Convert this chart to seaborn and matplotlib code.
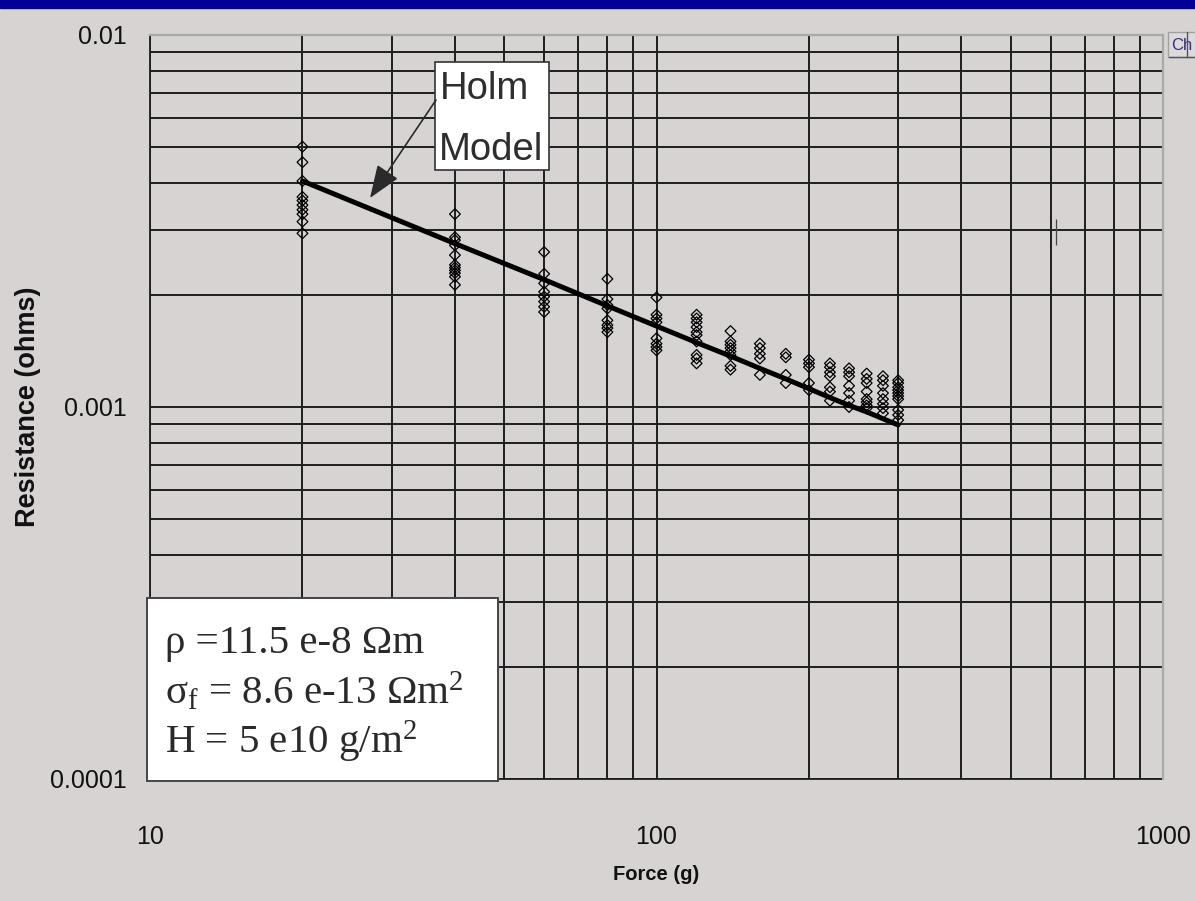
import matplotlib
matplotlib.use("Agg")
import matplotlib.pyplot as plt
import seaborn as sns
import pandas as pd
from matplotlib.patches import Rectangle
from matplotlib.lines import Line2D
from matplotlib.ticker import LogLocator, NullFormatter, FixedLocator, FixedFormatter

# ---- measured contact resistance (ohms) at each applied force (g) ----
r_20 = [0.00501, 0.00455, 0.00405, 0.00367, 0.00359, 0.00349, 0.00339, 0.00330, 0.00315, 0.00293]
r_40 = [0.00330, 0.00286, 0.00281, 0.00272, 0.00256, 0.00241, 0.00237, 0.00233, 0.00229, 0.00224, 0.00213]
r_60 = [0.00261, 0.00228, 0.00215, 0.00204, 0.00198, 0.00192, 0.00186, 0.00180]
r_80 = [0.00221, 0.00195, 0.00188, 0.00184, 0.00171, 0.00166, 0.00163, 0.00159]
r_100 = [0.00197, 0.00177, 0.00173, 0.00169, 0.00153, 0.00148, 0.00145, 0.00142]
r_120 = [0.00177, 0.00173, 0.00169, 0.00164, 0.00159, 0.00156, 0.00150, 0.00138, 0.00135, 0.00131]
r_140 = [0.00160, 0.00150, 0.00147, 0.00144, 0.00141, 0.00138, 0.00129, 0.00126]
r_160 = [0.00148, 0.00144, 0.00139, 0.00135, 0.00122]
r_180 = [0.00139, 0.00136, 0.00122, 0.00116]
r_200 = [0.00134, 0.00131, 0.00128, 0.00116, 0.00111]
r_220 = [0.00131, 0.00128, 0.00124, 0.00121, 0.00113, 0.00110, 0.00104]
r_240 = [0.00127, 0.00124, 0.00121, 0.00114, 0.00109, 0.00104, 0.00100]
r_260 = [0.00123, 0.00119, 0.00116, 0.00110, 0.00105, 0.00103, 0.00101, 0.000993]
r_280 = [0.00121, 0.00118, 0.00114, 0.00109, 0.00105, 0.00102, 0.000993, 0.000962]
r_300 = [0.00118, 0.00116, 0.00113, 0.00111, 0.00109, 0.00107, 0.00105, 0.000982, 0.000952, 0.000922]

forces = [20, 40, 60, 80, 100, 120, 140, 160, 180, 200, 220, 240, 260, 280, 300]
measured = [r_20, r_40, r_60, r_80, r_100, r_120, r_140, r_160, r_180, r_200,
            r_220, r_240, r_260, r_280, r_300]

# ---- Holm model curve ----
model_force = [20, 40, 60, 80, 100, 120, 140, 160, 180, 200, 220, 240, 260, 280, 300]
model_resistance = [0.00405, 0.00275, 0.00220, 0.00187, 0.00165, 0.00149, 0.00137, 0.00127,
                    0.00119, 0.00112, 0.00106, 0.00101, 0.00097, 0.00093, 0.000895]

# stray marker near the right edge
stray_force = [615]
stray_resistance = [0.00295]

x_ticks = [10, 100, 1000]
x_tick_labels = ["10", "100", "1000"]
y_ticks = [0.0001, 0.001, 0.01]
y_tick_labels = ["0.0001", "0.001", "0.01"]

param_lines = [r"ρ =11.5 e-8 Ωm",
               r"σ$_\mathrm{f}$ = 8.6 e-13 Ωm$^2$",
               r"H = 5 e10 g/m$^2$"]

df = pd.DataFrame({
    "force": [f for f, vals in zip(forces, measured) for _ in vals],
    "resistance": [v for vals in measured for v in vals],
})

bg = "#d7d3d3"
grid_c = "#1e1e1e"

sns.set_theme(style="white")
plt.rcParams["font.family"] = ["Liberation Sans", "DejaVu Sans"]
plt.rcParams["mathtext.fontset"] = "custom"
plt.rcParams["mathtext.rm"] = "Liberation Serif"
plt.rcParams["mathtext.it"] = "Liberation Serif:italic"

W, H = 1195, 901
fig = plt.figure(figsize=(W / 100, H / 100), dpi=100, facecolor=bg)

# title bar strip
fig.patches.append(Rectangle((0, 1 - 8 / H), 1, 8 / H, transform=fig.transFigure,
                             color="#000099", zorder=0))

L, R, T, B = 150, 1163, 35, 779
ax = fig.add_axes([L / W, 1 - B / H, (R - L) / W, (B - T) / H])
ax.set_facecolor(bg)

sns.scatterplot(data=df, x="force", y="resistance", marker="D", s=30,
                fc="none", ec="black", linewidth=0.9, ax=ax, zorder=3, legend=False)
sns.lineplot(x=model_force, y=model_resistance, color="black", linewidth=3.6,
             ax=ax, zorder=4)
ax.plot(stray_force, stray_resistance, marker="|", ms=19, mew=0.9, color="#444444",
        linestyle="none", zorder=3)

ax.set_xscale("log")
ax.set_yscale("log")
ax.set_xlim(10, 1000)
ax.set_ylim(0.0001, 0.01)

ax.xaxis.set_major_locator(FixedLocator(x_ticks))
ax.xaxis.set_major_formatter(FixedFormatter(x_tick_labels))
ax.yaxis.set_major_locator(FixedLocator(y_ticks))
ax.yaxis.set_major_formatter(FixedFormatter(y_tick_labels))
for axis in (ax.xaxis, ax.yaxis):
    axis.set_minor_locator(LogLocator(base=10, subs=range(2, 10)))
    axis.set_minor_formatter(NullFormatter())

ax.set_axisbelow(True)
ax.grid(True, which="both", color=grid_c, linewidth=1.4)
ax.tick_params(axis="both", which="major", direction="out", length=6, width=1.2,
               color=grid_c, labelsize=18, labelcolor="#111111")
ax.tick_params(axis="both", which="minor", length=0)
ax.tick_params(axis="x", which="major", pad=27)
ax.tick_params(axis="y", which="major", pad=11)

for side in ("left", "bottom"):
    ax.spines[side].set_color(grid_c)
    ax.spines[side].set_linewidth(1.3)
for side in ("top", "right"):
    ax.spines[side].set_color("#a9a9a9")
    ax.spines[side].set_linewidth(1.6)
    ax.spines[side].set_zorder(5)

ax.set_xlabel("Force (g)", fontsize=14.5, fontweight="bold", labelpad=12,
              color="#111111")
ax.set_ylabel("Resistance (ohms)", fontsize=19.5, fontweight="bold", labelpad=6,
              color="#111111")


def fx(px):
    return (px - L) / (R - L)


def fy(py):
    return (B - py) / (B - T)


# Holm model callout
ax.add_patch(Rectangle((fx(435), fy(170)), fx(549) - fx(435), fy(62) - fy(170),
                       transform=ax.transAxes, fc="white", ec="#333333", lw=1.2,
                       zorder=6, clip_on=False))
ax.text(fx(440), fy(99), "Holm", transform=ax.transAxes, fontsize=27.5,
        color="#2e2e2e", ha="left", va="baseline", zorder=7)
ax.text(fx(439), fy(160), "Model", transform=ax.transAxes, fontsize=27.5,
        color="#2e2e2e", ha="left", va="baseline", zorder=7)
ax.annotate("", xy=(fx(370), fy(198)), xytext=(fx(436), fy(100)),
            xycoords="axes fraction", textcoords="axes fraction",
            arrowprops=dict(arrowstyle="-|>,head_length=1.7,head_width=0.65",
                            color="#2a2a2a", lw=1.2, shrinkA=0, shrinkB=0),
            zorder=6)

# material parameter box
ax.add_patch(Rectangle((fx(147), fy(781)), fx(498) - fx(147), fy(598) - fy(781),
                       transform=ax.transAxes, fc="white", ec="#444444", lw=1.4,
                       zorder=6, clip_on=False))
for line, base in zip(param_lines, [653, 703, 753]):
    ax.text(fx(165), fy(base), line, transform=ax.transAxes, fontsize=29.5,
            family=["Liberation Serif", "DejaVu Serif"], color="#2a2a2a",
            ha="left", va="baseline", zorder=7)

# partially visible chart button at the right edge
fig.patches.append(Rectangle((1168 / W, 1 - 57 / H), 40 / W, 25 / H,
                             transform=fig.transFigure, fc="#dcdada", ec="#a0a0a0",
                             lw=1.0, zorder=3))
fig.text(1171 / W, 1 - 45 / H, "Ch", color="#3d2a8a", fontsize=12,
         ha="left", va="center", zorder=4)
fig.lines.append(Line2D([1169 / W, 1200 / W], [1 - 57 / H, 1 - 57 / H],
                        transform=fig.transFigure, color="#555555", lw=1.0, zorder=5))
fig.lines.append(Line2D([1187 / W, 1187 / W], [1 - 57 / H, 1 - 32 / H],
                        transform=fig.transFigure, color="#555555", lw=1.0, zorder=5))

fig.savefig("out.png", dpi=100, facecolor=bg)
